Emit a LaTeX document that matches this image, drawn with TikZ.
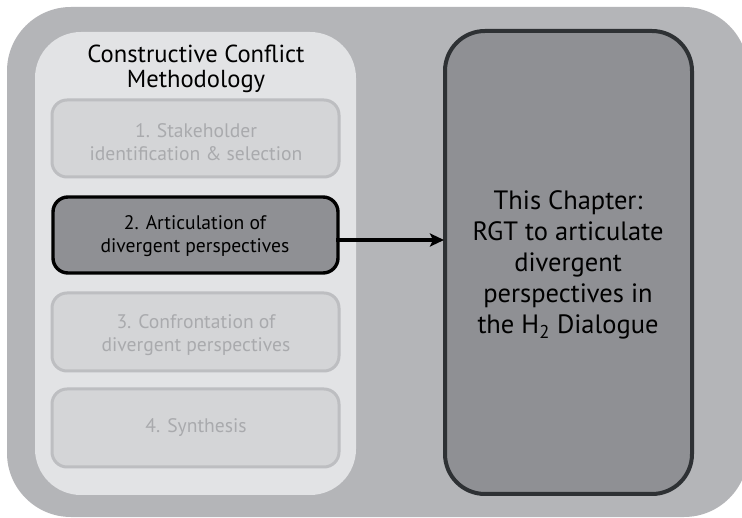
\documentclass[tikz,border=0pt]{standalone}
\usepackage{fontspec}
\setmainfont{PT Sans}
\usetikzlibrary{arrows.meta}
\begin{document}
\begin{tikzpicture}[x=1pt,y=-1pt,
  outerbox/.style={fill=outergray, draw=none, rounded corners=64pt},
  panel/.style={fill=panelgray, draw=none, rounded corners=46pt},
  stepfaded/.style={fill=boxgray, draw=edgegray, line width=3pt, rounded corners=15pt},
  stepactive/.style={fill=darkgray2, draw=black, line width=3.4pt, rounded corners=15pt},
  chapter/.style={fill=darkgray2, draw=edgedark, line width=4pt, rounded corners=40pt},
  steptext/.style={font=\fontsize{19.6}{23.5}\selectfont, align=center},
  fadedtext/.style={steptext, text=fadetext},
  conn/.style={line width=4pt, -{Stealth[length=14pt,width=13pt,inset=3pt]}}
]
\definecolor{outergray}{HTML}{B4B5B8}
\definecolor{panelgray}{HTML}{E2E3E5}
\definecolor{boxgray}{HTML}{D4D5D7}
\definecolor{edgegray}{HTML}{BDBEC1}
\definecolor{fadetext}{HTML}{A9AAAD}
\definecolor{darkgray2}{HTML}{8F9094}
\definecolor{edgedark}{HTML}{2E3134}
\useasboundingbox (0,0) rectangle (742,518);
\clip (0,0) rectangle (742,518);
\fill[white] (0,0) rectangle (742,518);
\path[outerbox] (7,7) rectangle (748,517);
\path[panel] (35,32) rectangle (356,495);
\node[font=\fontsize{24.6}{25.5}\selectfont, align=center] (title) at (196,69) {Constructive Conflict\\Methodology};
\path[stepfaded] (52,100) rectangle (339,177);
\node[fadedtext] (s1) at (196,142) {1. Stakeholder\\identification \& selection};
\path[stepactive] (53,197) rectangle (338,273);
\node[steptext] (s2) at (195,236) {2. Articulation of\\divergent perspectives};
\coordinate (s2e) at (336,240);
\path[stepfaded] (52,293) rectangle (339,371);
\node[fadedtext] (s3) at (196,335) {3. Confrontation of\\divergent perspectives};
\path[stepfaded] (52,389) rectangle (339,467);
\node[fadedtext] (s4) at (196,428) {4. Synthesis};
\path[chapter] (445,31) rectangle (692,494);
\coordinate (chw) at (444,240);
\node[font=\fontsize{26.5}{31}\selectfont, align=center] (ch) at (568,265) {This Chapter:\\RGT to articulate\\divergent\\perspectives in\\the H\textsubscript{2} Dialogue};
\draw[conn] (s2e) -- (chw);
\end{tikzpicture}
\end{document}
